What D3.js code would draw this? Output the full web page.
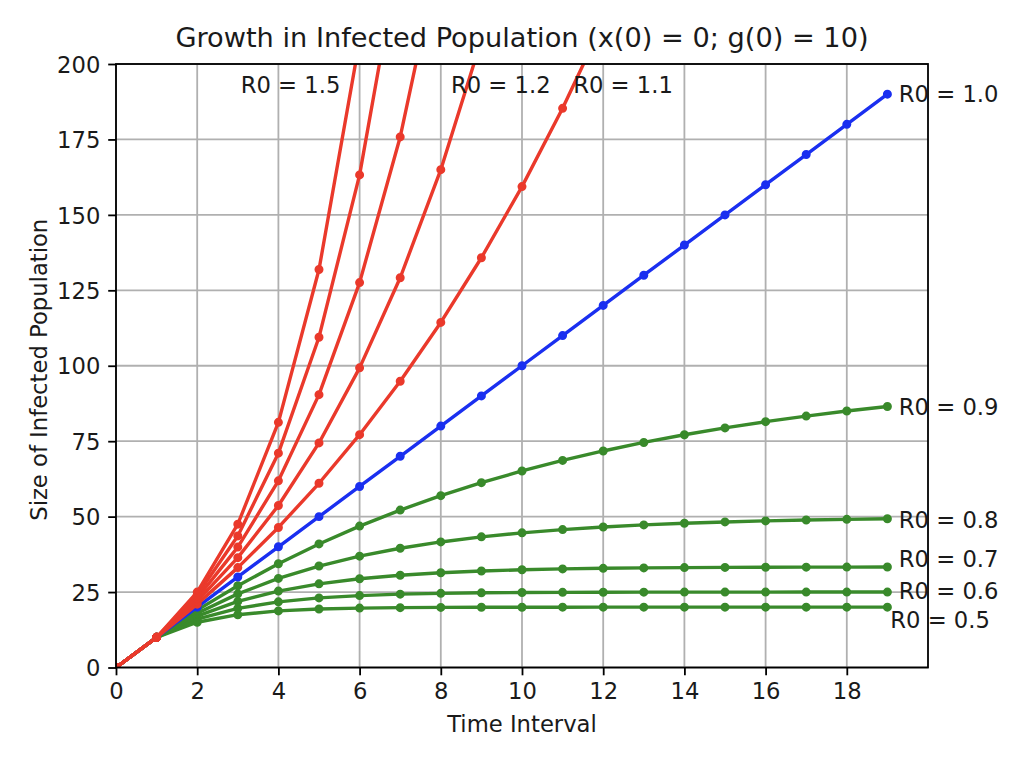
<!DOCTYPE html>
<html>
<head>
<meta charset="utf-8">
<script src="https://cdn.jsdelivr.net/npm/d3@7/dist/d3.min.js"></script>
<style>
  html, body { margin: 0; padding: 0; background: #fff; }
  text { font-family: "DejaVu Sans", sans-serif; fill: #1a1a1a; }
</style>
</head>
<body>
<svg id="chart" width="1024" height="757"></svg>
<script>
// ---- data ----
const timeSteps = [0,1,2,3,4,5,6,7,8,9,10,11,12,13,14,15,16,17,18,19];
const r05 = [0,10,15,17.5,18.75,19.38,19.69,19.84,19.92,19.96,19.98,19.99,20,20,20,20,20,20,20,20];
const r06 = [0,10,16,19.6,21.76,23.06,23.83,24.3,24.58,24.75,24.85,24.91,24.95,24.97,24.98,24.99,24.99,25,25,25];
const r07 = [0,10,17,21.9,25.33,27.73,29.41,30.59,31.41,31.99,32.39,32.67,32.87,33.01,33.11,33.18,33.22,33.26,33.28,33.3];
const r08 = [0,10,18,24.4,29.52,33.62,36.89,39.51,41.61,43.29,44.63,45.71,46.56,47.25,47.8,48.24,48.59,48.87,49.1,49.28];
const r09 = [0,10,19,27.1,34.39,40.95,46.86,52.17,56.95,61.26,65.13,68.62,71.76,74.58,77.12,79.41,81.47,83.32,84.99,86.49];
const r10 = [0,10,20,30,40,50,60,70,80,90,100,110,120,130,140,150,160,170,180,190];
const r11 = [0,10,21,33.1,46.41,61.05,77.16,94.87,114.36,135.79,159.37,185.31,213.84];
const r12 = [0,10,22,36.4,53.68,74.42,99.3,129.16,164.99,207.99];
const r13 = [0,10,23,39.9,61.87,90.43,127.56,175.83,238.58];
const r14 = [0,10,24,43.6,71.04,109.46,163.24,238.53];
const r15 = [0,10,25,47.5,81.25,131.88,207.81];

const seriesNames = ["0.5","0.6","0.7","0.8","0.9","1.0","1.1","1.2","1.3","1.4","1.5"];
const seriesValues = [r05,r06,r07,r08,r09,r10,r11,r12,r13,r14,r15];
const seriesGroup = ["low","low","low","low","low","one","high","high","high","high","high"];

const xTicks = [0,2,4,6,8,10,12,14,16,18];
const yTicks = [0,25,50,75,100,125,150,175,200];

// annotation labels: text, x (data), y (data)
const labelText = ["R0 = 1.5","R0 = 1.2","R0 = 1.1","R0 = 1.0","R0 = 0.9","R0 = 0.8","R0 = 0.7","R0 = 0.6","R0 = 0.5"];
const labelX    = [3.07, 8.25, 11.26, 19.28, 19.28, 19.28, 19.28, 19.28, 19.07];
const labelY    = [193.2, 193.2, 193.2, 190, 86.4, 48.8, 35.9, 25.5, 15.9];

const titleText = "Growth in Infected Population (x(0) = 0; g(0) = 10)";
const xLabelText = "Time Interval";
const yLabelText = "Size of Infected Population";

// ---- styles ----
const colors = { low: "#398a2b", one: "#1a2ff0", high: "#ea392b" };
const margin = { left: 116, right: 928, top: 64, bottom: 667.5 };
const fs = "22.7px";

const svg = d3.select("#chart");
const x = d3.scaleLinear().domain([0, 20]).range([margin.left, margin.right]);
const y = d3.scaleLinear().domain([0, 200]).range([margin.bottom, margin.top]);

svg.append("rect").attr("width", 1024).attr("height", 757).attr("fill", "#fff");

svg.append("defs").append("clipPath").attr("id", "plotClip")
  .append("rect")
  .attr("x", margin.left).attr("y", margin.top)
  .attr("width", margin.right - margin.left).attr("height", margin.bottom - margin.top);

// grid
const grid = svg.append("g");
grid.selectAll("line.vx").data(xTicks).enter().append("line")
  .attr("x1", d => x(d)).attr("x2", d => x(d))
  .attr("y1", margin.top).attr("y2", margin.bottom)
  .attr("stroke", "#b0b0b0").attr("stroke-width", 1.8);
grid.selectAll("line.hy").data(yTicks).enter().append("line")
  .attr("y1", d => y(d)).attr("y2", d => y(d))
  .attr("x1", margin.left).attr("x2", margin.right)
  .attr("stroke", "#b0b0b0").attr("stroke-width", 1.8);

// series
const plot = svg.append("g").attr("clip-path", "url(#plotClip)");
const line = d3.line().x((d, i) => x(timeSteps[i])).y(d => y(d));
seriesValues.forEach((vals, si) => {
  const c = colors[seriesGroup[si]];
  const g = plot.append("g");
  g.append("path").datum(vals).attr("d", line)
    .attr("fill", "none").attr("stroke", c).attr("stroke-width", 3.4)
    .attr("stroke-linejoin", "round").attr("stroke-linecap", "butt");
  g.selectAll("circle").data(vals).enter().append("circle")
    .attr("cx", (d, i) => x(timeSteps[i])).attr("cy", d => y(d))
    .attr("r", 3.4).attr("fill", c).attr("stroke", c).attr("stroke-width", 2.2);
});

// axes
const xAxis = d3.axisBottom(x).tickValues(xTicks).tickSize(7.8).tickPadding(7.8).tickFormat(d3.format("d"));
const yAxis = d3.axisLeft(y).tickValues(yTicks).tickSize(7.8).tickPadding(7.8).tickFormat(d3.format("d"));
const gx = svg.append("g").attr("transform", `translate(0,${margin.bottom})`).call(xAxis);
const gy = svg.append("g").attr("transform", `translate(${margin.left},0)`).call(yAxis);
[gx, gy].forEach(g => {
  g.select(".domain").remove();
  g.selectAll(".tick line").attr("stroke", "#000").attr("stroke-width", 1.8);
  g.selectAll(".tick text").attr("fill", "#1a1a1a").style("font-size", fs)
    .style("font-family", "DejaVu Sans, sans-serif");
});
gy.selectAll(".tick text").attr("dy", "0.36em");

// spines
svg.append("rect")
  .attr("x", margin.left).attr("y", margin.top)
  .attr("width", margin.right - margin.left).attr("height", margin.bottom - margin.top)
  .attr("fill", "none").attr("stroke", "#000").attr("stroke-width", 1.8);

// annotations
svg.append("g").selectAll("text").data(labelText).enter().append("text")
  .attr("x", (d, i) => x(labelX[i]))
  .attr("y", (d, i) => y(labelY[i]))
  .attr("dy", "0.36em")
  .style("font-size", fs)
  .text(d => d);

// title and axis labels
svg.append("text").attr("x", (margin.left + margin.right) / 2).attr("y", 46.7)
  .attr("text-anchor", "middle").style("font-size", "27.2px").text(titleText);
svg.append("text").attr("x", (margin.left + margin.right) / 2).attr("y", 732.3)
  .attr("text-anchor", "middle").style("font-size", fs).text(xLabelText);
svg.append("text").attr("transform", `translate(46.5,${(margin.top + margin.bottom) / 2 + 4}) rotate(-90)`)
  .attr("text-anchor", "middle").style("font-size", fs).text(yLabelText);
</script>
</body>
</html>
